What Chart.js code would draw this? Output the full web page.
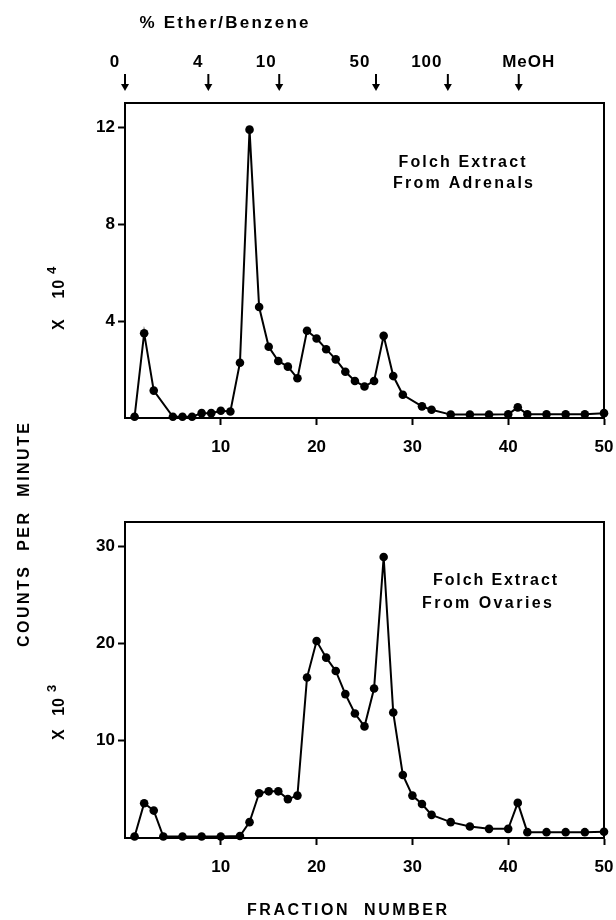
<!DOCTYPE html>
<html><head><meta charset="utf-8">
<script src="https://cdn.jsdelivr.net/npm/chart.js@4.4.1/dist/chart.umd.min.js"></script>
<style>
html,body{margin:0;padding:0;background:#fff;}
#wrap{position:relative;width:616px;height:920px;overflow:hidden;}
canvas{position:absolute;left:0;top:0;}
</style></head><body>
<div id="wrap"><canvas id="c1" width="616" height="920"></canvas><canvas id="c2" width="616" height="920"></canvas></div>
<script>
// ---- data ----
const adrenalFractions = [1,2,3,5,6,7,8,9,10,11,12,13,14,15,16,17,18,19,20,21,22,23,24,25,26,27,28,29,31,32,34,36,38,40,41,42,44,46,48,50];
const adrenalCounts = [0.05,3.5,1.13,0.05,0.05,0.05,0.2,0.2,0.3,0.27,2.28,11.9,4.58,2.94,2.35,2.12,1.64,3.6,3.28,2.84,2.42,1.91,1.53,1.3,1.53,3.39,1.73,0.96,0.48,0.34,0.14,0.14,0.14,0.15,0.44,0.15,0.15,0.15,0.15,0.2]; // x 10^4
const ovaryFractions = [1,2,3,4,6,8,10,12,13,14,15,16,17,18,19,20,21,22,23,24,25,26,27,28,29,30,31,32,34,36,38,40,41,42,44,46,48,50];
const ovaryCounts = [0.15,3.58,2.82,0.15,0.15,0.15,0.15,0.2,1.63,4.6,4.8,4.8,4.0,4.36,16.5,20.26,18.55,17.18,14.8,12.8,11.48,15.37,28.9,12.9,6.48,4.36,3.5,2.38,1.63,1.18,0.94,0.94,3.61,0.6,0.6,0.6,0.6,0.65]; // x 10^3
const fractionTicks = [10,20,30,40,50];
const adrenalTicks = [4,8,12];
const ovaryTicks = [10,20,30];
const solventFractions = [0,8.7,16.1,26.2,33.7,41.1];
const solventLabels = ['0','4','10','50','100','MeOH'];

// ---- layout / style ----
const W = 616, H = 920, XH = 50;
const labelOffsets = [-10,-10,-13,-16,-21,10];
const TEXT = 'Liberation Sans';
const TICKFONT = {family:'Liberation Sans', size:17, weight:'bold'};

function fitText(ctx, text, cx, cy, font, width, rotate) {
  ctx.save();
  ctx.font = font; ctx.fillStyle = '#000'; ctx.textBaseline = 'middle'; ctx.textAlign = 'left';
  ctx.translate(cx, cy); if (rotate) ctx.rotate(-Math.PI/2);
  let sp = 0;
  if (width && 'letterSpacing' in ctx) {
    ctx.letterSpacing = '0px';
    const base = ctx.measureText(text).width;
    sp = (width - base) / Math.max(1, text.length - 1);
    ctx.letterSpacing = sp.toFixed(2) + 'px';
  }
  const w = ctx.measureText(text).width - sp;
  ctx.fillText(text, -w/2, 0);
  ctx.restore();
}
function powerLabel(ctx, base, exp, x, yStart, width) {
  ctx.save();
  ctx.fillStyle = '#000'; ctx.textBaseline = 'middle'; ctx.textAlign = 'left';
  ctx.translate(x, yStart); ctx.rotate(-Math.PI/2);
  ctx.font = 'bold 16px "' + TEXT + '"';
  let sp = 0;
  if ('letterSpacing' in ctx) {
    ctx.letterSpacing = '0px';
    const b = ctx.measureText(base).width;
    sp = (width - b) / (base.length - 1);
    ctx.letterSpacing = sp.toFixed(2) + 'px';
  }
  ctx.fillText(base, 0, 0);
  const w = ctx.measureText(base).width - sp;
  if ('letterSpacing' in ctx) ctx.letterSpacing = '0px';
  ctx.font = 'bold 13px "' + TEXT + '"';
  ctx.fillText(exp, w + 6, -8);
  ctx.restore();
}
function arrow(ctx, x, y0, y1) {
  ctx.save();
  ctx.strokeStyle = '#000'; ctx.fillStyle = '#000'; ctx.lineWidth = 2;
  ctx.beginPath(); ctx.moveTo(x, y0); ctx.lineTo(x, y1 - 5); ctx.stroke();
  ctx.beginPath(); ctx.moveTo(x - 4, y1 - 7); ctx.lineTo(x + 4, y1 - 7); ctx.lineTo(x, y1); ctx.closePath(); ctx.fill();
  ctx.restore();
}

const framePlugin = {
  id: 'frame',
  afterDraw(chart) {
    const a = chart.chartArea, ctx = chart.ctx;
    ctx.save(); ctx.strokeStyle = '#000'; ctx.lineWidth = 2;
    ctx.strokeRect(a.left, a.top, a.right - a.left, a.bottom - a.top);
    ctx.restore();
    if (chart.$extras) chart.$extras(chart, ctx);
  }
};

function makeChart(id, xs, ys, yMax, yTicks, area, extras) {
  const chart = new Chart(document.getElementById(id), {
    type: 'line',
    data: { datasets: [{
      data: xs.map((x, i) => ({x: x, y: ys[i]})),
      borderColor: '#000', backgroundColor: '#000', borderWidth: 2,
      pointRadius: 4.3, pointHoverRadius: 4.3, pointBackgroundColor: '#000', pointBorderWidth: 0,
      tension: 0, clip: false
    }]},
    options: {
      responsive: false, animation: false, events: [],
      layout: { padding: { top: area.top, left: 0, right: W - area.right, bottom: H - area.bottom - XH } },
      plugins: { legend: {display: false}, tooltip: {enabled: false} },
      scales: {
        x: {
          type: 'linear', min: 0, max: 50,
          afterBuildTicks(s) { s.ticks = fractionTicks.map(v => ({value: v})); },
          afterFit(s) { s.height = XH; s.paddingLeft = 0; s.paddingRight = 0; },
          grid: { drawOnChartArea: false, drawTicks: true, tickLength: 7, tickWidth: 2, tickColor: '#000' },
          border: { color: '#000', width: 2 },
          ticks: { color: '#000', font: TICKFONT, padding: 12, maxRotation: 0, autoSkip: false }
        },
        y: {
          type: 'linear', min: 0, max: yMax,
          afterBuildTicks(s) { s.ticks = yTicks.map(v => ({value: v})); },
          afterFit(s) { s.width = area.left; s.paddingTop = 0; s.paddingBottom = 0; },
          grid: { drawOnChartArea: false, drawTicks: true, tickLength: 7, tickWidth: 2, tickColor: '#000' },
          border: { color: '#000', width: 2 },
          ticks: { color: '#000', font: TICKFONT, padding: 3 }
        }
      }
    },
    plugins: [framePlugin]
  });
  chart.$extras = extras;
  chart.draw();
  return chart;
}

makeChart('c1', adrenalFractions, adrenalCounts, 13, adrenalTicks,
  {left: 125, right: 604, top: 103, bottom: 418},
  function (chart, ctx) {
    fitText(ctx, '% Ether/Benzene', 224, 23, 'bold 17px "' + TEXT + '"', 169);
    const xs = chart.scales.x;
    solventFractions.forEach((f, i) => {
      const px = xs.getPixelForValue(f);
      arrow(ctx, px, 74, 91);
      ctx.save(); ctx.font = 'bold 17px "' + TEXT + '"'; ctx.fillStyle = '#000';
      ctx.textAlign = 'center'; ctx.textBaseline = 'middle';
      if ('letterSpacing' in ctx) ctx.letterSpacing = '1px';
      ctx.fillText(solventLabels[i], px + labelOffsets[i], 62);
      ctx.restore();
    });
    fitText(ctx, 'Folch Extract', 462, 163, 'bold 16px "' + TEXT + '"', 127);
    fitText(ctx, 'From Adrenals', 463, 184, 'bold 16px "' + TEXT + '"', 140);
    powerLabel(ctx, 'X    10', '4', 60, 330, 50);
  });

makeChart('c2', ovaryFractions, ovaryCounts, 32.5, ovaryTicks,
  {left: 125, right: 604, top: 522, bottom: 838},
  function (chart, ctx) {
    fitText(ctx, 'Folch Extract', 495, 581, 'bold 16px "' + TEXT + '"', 124);
    fitText(ctx, 'From Ovaries', 487, 604, 'bold 16px "' + TEXT + '"', 130);
    powerLabel(ctx, 'X   10', '3', 60, 740, 42);
    fitText(ctx, 'COUNTS  PER  MINUTE', 25, 535, 'bold 16px "' + TEXT + '"', 224, true);
    fitText(ctx, 'FRACTION  NUMBER', 347, 911, 'bold 16px "' + TEXT + '"', 200);
  });
</script>
</body></html>
